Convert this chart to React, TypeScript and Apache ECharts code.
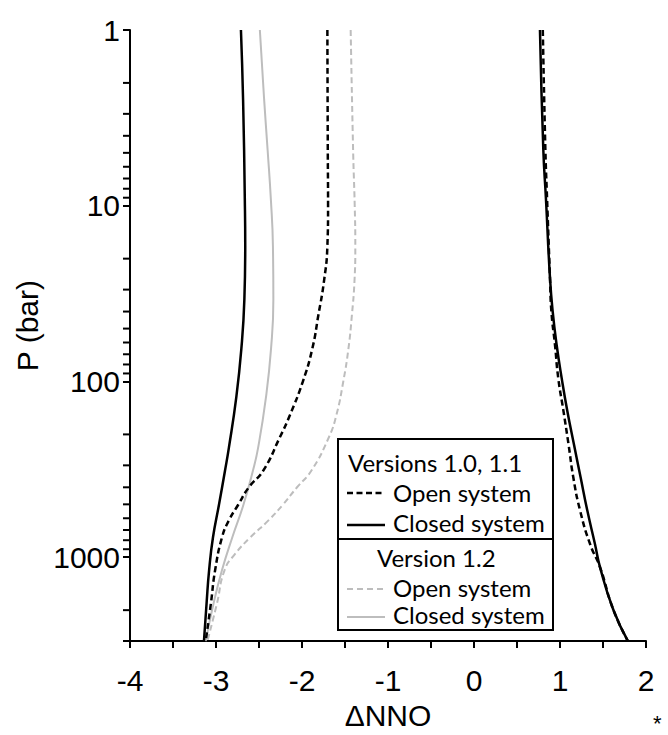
import React, { useEffect, useRef } from "react";
import * as echarts from "echarts";

// ---- Data ----
const xTickLabels = [-4, -3, -2, -1, 0, 1, 2];
const yTickLabels = [1, 10, 100, 1000];
const yMinorTicks = [2, 3, 4, 5, 6, 7, 8, 9, 20, 30, 40, 50, 60, 70, 80, 90, 200, 300, 400, 500, 600, 700, 800, 900, 2000];

// Versions 1.0, 1.1 – closed system (left branch)
const pClosedV10Left = [1, 2.5, 9.2, 17, 34, 65, 124, 238, 321, 501, 770, 1183, 1843, 3000];
const nnoClosedV10Left = [-2.71, -2.685, -2.665, -2.66, -2.67, -2.705, -2.765, -2.85, -2.895, -2.965, -3.035, -3.08, -3.11, -3.14];

// Versions 1.0, 1.1 – open system (left branch)
const pOpenV10Left = [1, 5, 10, 17, 27, 42, 65, 100, 155, 209, 321, 401, 501, 617, 770, 1183, 1843, 3000];
const nnoOpenV10Left = [-1.705, -1.7, -1.697, -1.705, -1.745, -1.81, -1.88, -1.99, -2.14, -2.26, -2.45, -2.62, -2.74, -2.85, -2.93, -3.01, -3.06, -3.12];

// Version 1.2 – closed system
const pClosedV12 = [1, 2.5, 4.8, 9.2, 17, 34, 65, 124, 238, 321, 501, 770, 1183, 1843, 3000];
const nnoClosedV12 = [-2.49, -2.44, -2.4, -2.362, -2.338, -2.333, -2.36, -2.42, -2.51, -2.57, -2.68, -2.81, -2.93, -3.03, -3.12];

// Version 1.2 – open system
const pOpenV12 = [1, 5, 10, 17, 27, 42, 65, 100, 155, 209, 321, 401, 501, 617, 770, 960, 1183, 1843, 3000];
const nnoOpenV12 = [-1.434, -1.405, -1.387, -1.38, -1.39, -1.42, -1.46, -1.52, -1.6, -1.69, -1.89, -2.06, -2.22, -2.39, -2.6, -2.78, -2.9, -2.99, -3.1];

// Versions 1.0, 1.1 – right branch
const pRight = [1, 4.8, 9.2, 26, 40, 62, 96, 147, 229, 352, 541, 843, 1137, 1991, 3000];
const nnoClosedV10Right = [0.767, 0.806, 0.837, 0.884, 0.915, 0.961, 1.02, 1.085, 1.163, 1.24, 1.317, 1.407, 1.465, 1.62, 1.79];
const nnoOpenV10Right = [0.8, 0.83, 0.85, 0.884, 0.9, 0.942, 0.98, 1.04, 1.1, 1.155, 1.233, 1.35, 1.465, 1.62, 1.79];

const legendTitles = ["Versions 1.0, 1.1", "Version 1.2"];
const legendItems = ["Open system", "Closed system"];

const zip = (xs: number[], ps: number[]) => xs.map((x, i) => [x, ps[i]]);

const AXIS_FONT = "Liberation Sans";
const LEGEND_FONT = "Lato";
const BLACK = "#000000";
const GRAY = "#bdbdbd";

function lineSeries(name: string, data: number[][], color: string, width: number, dashed: boolean, z: number) {
  return {
    name,
    type: "line",
    data,
    symbol: "none",
    smooth: 0.5,
    z,
    lineStyle: {
      color,
      width,
      type: dashed ? [6, 3.5] : "solid",
      cap: "butt",
    },
    silent: true,
  };
}

export default function App() {
  const ref = useRef<HTMLDivElement>(null);

  useEffect(() => {
    if (!ref.current) return;
    const chart = echarts.init(ref.current, null, { renderer: "svg" });

    const boxX = 338;
    const boxY = 439;
    const boxW = 215;
    const boxH = 191;
    const divY = 539;

    const option: any = {
      animation: false,
      backgroundColor: "#ffffff",
      grid: { left: 130, right: 22, top: 30, bottom: 91 },
      xAxis: {
        type: "value",
        min: -4,
        max: 2,
        interval: 1,
        name: "\u0394NNO",
        nameLocation: "middle",
        nameGap: 56,
        nameTextStyle: { fontSize: 30, color: BLACK, fontFamily: AXIS_FONT },
        axisLine: { show: true, onZero: false, lineStyle: { color: BLACK, width: 2 } },
        axisTick: { show: true, inside: false, length: 7, lineStyle: { color: BLACK, width: 2 } },
        minorTick: { show: true, splitNumber: 2, length: 7, lineStyle: { color: BLACK, width: 2 } },
        splitLine: { show: false },
        minorSplitLine: { show: false },
        axisLabel: {
          fontSize: 30,
          color: BLACK,
          fontFamily: AXIS_FONT,
          margin: 24,
          formatter: (v: number) => (xTickLabels.includes(Math.round(v)) ? String(Math.round(v)) : ""),
        },
      },
      yAxis: {
        type: "log",
        logBase: 10,
        min: 1,
        max: 3000,
        inverse: true,
        name: "P (bar)",
        nameLocation: "middle",
        nameGap: 88,
        nameRotate: 90,
        nameTextStyle: { fontSize: 30, color: BLACK, fontFamily: AXIS_FONT, padding: [0, 0, 0, 20] },
        axisLine: { show: true, onZero: false, lineStyle: { color: BLACK, width: 2 } },
        axisTick: { show: true, inside: false, length: 7, lineStyle: { color: BLACK, width: 2 } },
        splitLine: { show: false },
        axisLabel: {
          fontSize: 30,
          color: BLACK,
          fontFamily: AXIS_FONT,
          margin: 10,
          formatter: (v: number) => {
            const r = Math.round(v);
            return yTickLabels.includes(r) ? String(r) : "";
          },
        },
      },
      series: [
        {
          type: "custom",
          silent: true,
          clip: false,
          z: 1,
          data: yMinorTicks.map((p) => [-4, p]),
          renderItem: (params: any, api: any) => {
            const pt = api.coord([api.value(0), api.value(1)]);
            return {
              type: "line",
              shape: { x1: pt[0] - 7, y1: pt[1], x2: pt[0], y2: pt[1] },
              style: { stroke: BLACK, lineWidth: 2 },
            };
          },
        },
        lineSeries("V1.2 open", zip(nnoOpenV12, pOpenV12), GRAY, 2, true, 2),
        lineSeries("V1.2 closed", zip(nnoClosedV12, pClosedV12), GRAY, 2, false, 2),
        lineSeries("V1.0 open", zip(nnoOpenV10Left, pOpenV10Left), BLACK, 2.5, true, 3),
        lineSeries("V1.0 closed", zip(nnoClosedV10Left, pClosedV10Left), BLACK, 2.5, false, 3),
        lineSeries("V1.0 closed right", zip(nnoClosedV10Right, pRight), BLACK, 2.5, false, 3),
        lineSeries("V1.0 open right", zip(nnoOpenV10Right, pRight), BLACK, 2.5, true, 4),
      ],
      graphic: [
        {
          type: "group",
          z: 100,
          children: [
            { type: "rect", shape: { x: boxX, y: boxY, width: boxW, height: boxH }, style: { fill: "#ffffff", stroke: BLACK, lineWidth: 2 } },
            { type: "line", shape: { x1: boxX, y1: divY, x2: boxX + boxW, y2: divY }, style: { stroke: BLACK, lineWidth: 2 } },
            { type: "text", x: 348, y: 462, style: { text: legendTitles[0], font: `24px ${LEGEND_FONT}`, fill: BLACK, textVerticalAlign: "middle" } },
            { type: "line", shape: { x1: 347, y1: 493, x2: 385, y2: 493 }, style: { stroke: BLACK, lineWidth: 2.5, lineDash: [6, 3.5] } },
            { type: "text", x: 393, y: 492, style: { text: legendItems[0], font: `24px ${LEGEND_FONT}`, fill: BLACK, textVerticalAlign: "middle" } },
            { type: "line", shape: { x1: 347, y1: 525, x2: 385, y2: 525 }, style: { stroke: BLACK, lineWidth: 2.5 } },
            { type: "text", x: 393, y: 522, style: { text: legendItems[1], font: `24px ${LEGEND_FONT}`, fill: BLACK, textVerticalAlign: "middle" } },
            { type: "text", x: 377, y: 557, style: { text: legendTitles[1], font: `24px ${LEGEND_FONT}`, fill: BLACK, textVerticalAlign: "middle" } },
            { type: "line", shape: { x1: 347, y1: 589, x2: 385, y2: 589 }, style: { stroke: GRAY, lineWidth: 2, lineDash: [6, 4] } },
            { type: "text", x: 393, y: 587, style: { text: legendItems[0], font: `24px ${LEGEND_FONT}`, fill: BLACK, textVerticalAlign: "middle" } },
            { type: "line", shape: { x1: 347, y1: 617, x2: 385, y2: 617 }, style: { stroke: GRAY, lineWidth: 2 } },
            { type: "text", x: 393, y: 614, style: { text: legendItems[1], font: `24px ${LEGEND_FONT}`, fill: BLACK, textVerticalAlign: "middle" } },
          ],
        },
        { type: "text", x: 653, y: 734, style: { text: "*", font: `22px ${AXIS_FONT}`, fill: BLACK, textVerticalAlign: "bottom" } },
      ],
    };

    chart.setOption(option);
    return () => chart.dispose();
  }, []);

  return (
    <div
      ref={ref}
      style={{ position: "fixed", left: 0, top: 0, width: 668, height: 735, background: "#fff" }}
    />
  );
}
